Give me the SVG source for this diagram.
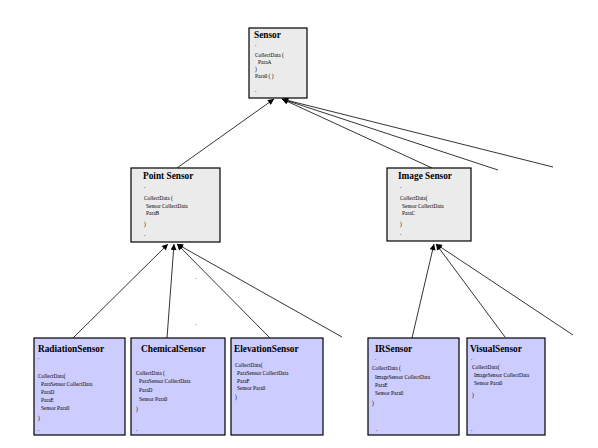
<svg xmlns="http://www.w3.org/2000/svg" width="598" height="448" viewBox="0 0 598 448">
<style>
.bg{fill:#ffffff}
.top{fill:#ebebeb;stroke:#000;stroke-width:1.2}
.sub{fill:#ccccff;stroke:#000;stroke-width:1.2}
.t{font-family:"Liberation Serif","Times New Roman",serif;font-weight:bold;font-size:9.3px;fill:#000}
.b{font-family:"Liberation Serif","Times New Roman",serif;font-size:5.4px;fill:#000}
.c line{stroke:#000;stroke-width:0.8;marker-end:url(#arr)}
</style>
<defs>
<marker id="arr" viewBox="0 0 10 10" refX="10" refY="5" markerWidth="7" markerHeight="6" markerUnits="userSpaceOnUse" orient="auto">
<path d="M0,0 L10,5 L0,10 z" fill="#000"/>
</marker>
</defs>
<rect class="bg" x="0" y="0" width="598" height="448"/>
<g id="connectors" class="c">
<line x1="177" y1="168" x2="274" y2="99"/>
<line x1="432" y1="168" x2="282" y2="99"/>
<line x1="498" y1="170" x2="282" y2="99"/>
<line x1="553" y1="167" x2="282" y2="99"/>
<line x1="73" y1="338" x2="168" y2="244"/>
<line x1="167" y1="338" x2="174" y2="244"/>
<line x1="270" y1="338" x2="177" y2="244"/>
<line x1="342" y1="337" x2="177" y2="244"/>
<line x1="412" y1="338" x2="434" y2="244"/>
<line x1="505" y1="337" x2="436" y2="244"/>
<line x1="573" y1="335" x2="436" y2="244"/>
</g>
<text class="b" x="195" y="279">.</text>
<text class="b" x="195" y="325">.</text>
<g id="Sensor">
<rect class="top" x="249" y="28" width="58" height="70"/>
<text class="t" x="254" y="38">Sensor</text>
<text class="b" x="255" y="46">.</text>
<text class="b" x="255" y="57">CollectData (</text>
<text class="b" x="258" y="64">ParaA</text>
<text class="b" x="255" y="71">)</text>
<text class="b" x="255" y="78">Para0 ( )</text>
<text class="b" x="255" y="92">.</text>
</g>
<g id="PointSensor">
<rect class="top" x="131" y="168" width="89" height="74"/>
<text class="t" x="143" y="179">Point Sensor</text>
<text class="b" x="144" y="188">.</text>
<text class="b" x="144" y="200">CollectData (</text>
<text class="b" x="146" y="208">Sensor CollectData</text>
<text class="b" x="146" y="215">ParaB</text>
<text class="b" x="144" y="226">)</text>
<text class="b" x="144" y="236">.</text>
</g>
<g id="ImageSensor">
<rect class="top" x="387" y="168" width="84" height="73"/>
<text class="t" x="398" y="179">Image Sensor</text>
<text class="b" x="400" y="188">.</text>
<text class="b" x="400" y="200">CollectData(</text>
<text class="b" x="402" y="208">Sensor CollectData</text>
<text class="b" x="402" y="215">ParaC</text>
<text class="b" x="400" y="226">)</text>
<text class="b" x="400" y="235">.</text>
</g>
<g id="RadiationSensor">
<rect class="sub" x="34" y="338" width="91" height="97"/>
<text class="t" x="38" y="352">RadiationSensor</text>
<text class="b" x="38" y="359">.</text>
<text class="b" x="38" y="378">CollectData(</text>
<text class="b" x="41" y="386">ParaSensor CollectData</text>
<text class="b" x="41" y="393.5">ParaD</text>
<text class="b" x="41" y="401.5">ParaE</text>
<text class="b" x="41" y="409.5">Sensor Para0</text>
<text class="b" x="38" y="420">)</text>
<text class="b" x="38" y="431">.</text>
</g>
<g id="ChemicalSensor">
<rect class="sub" x="131" y="338" width="94" height="97"/>
<text class="t" x="141" y="352">ChemicalSensor</text>
<text class="b" x="136" y="375">CollectData (</text>
<text class="b" x="139" y="383">ParaSensor CollectData</text>
<text class="b" x="139" y="391.5">ParaD</text>
<text class="b" x="139" y="400.5">Sensor Para0</text>
<text class="b" x="136" y="411">)</text>
<text class="b" x="136" y="431">.</text>
</g>
<g id="ElevationSensor">
<rect class="sub" x="231" y="338" width="92" height="97"/>
<text class="t" x="234" y="352">ElevationSensor</text>
<text class="b" x="235" y="367">CollectData(</text>
<text class="b" x="237" y="374.5">ParaSensor CollectData</text>
<text class="b" x="237" y="382.5">ParaF</text>
<text class="b" x="237" y="390">Sensor Para0</text>
<text class="b" x="235" y="399">)</text>
</g>
<g id="IRSensor">
<rect class="sub" x="368" y="338" width="91" height="97"/>
<text class="t" x="375" y="352">IRSensor</text>
<text class="b" x="375" y="360">.</text>
<text class="b" x="372" y="370">CollectData (</text>
<text class="b" x="375" y="378.5">ImageSensor CollectData</text>
<text class="b" x="375" y="386.5">ParaE</text>
<text class="b" x="375" y="394.5">Sensor Para0</text>
<text class="b" x="372" y="405">)</text>
<text class="b" x="376" y="431">.</text>
</g>
<g id="VisualSensor">
<rect class="sub" x="467" y="338" width="78" height="97"/>
<text class="t" x="470" y="352">VisualSensor</text>
<text class="b" x="471" y="360">.</text>
<text class="b" x="472" y="368.5">CollectData(</text>
<text class="b" x="474" y="377">ImageSensor CollectData</text>
<text class="b" x="474" y="385">Sensor Para0</text>
<text class="b" x="472" y="397">)</text>
<text class="b" x="471" y="431">.</text>
</g>
</svg>
